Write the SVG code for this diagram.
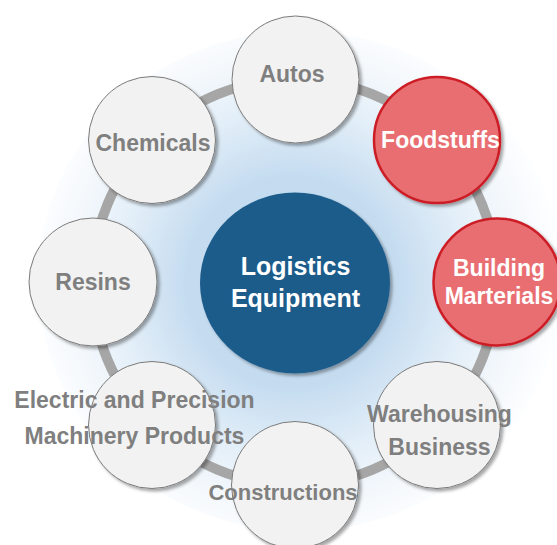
<svg xmlns="http://www.w3.org/2000/svg" width="557" height="545" viewBox="0 0 557 545">
  <defs>
    <radialGradient id="halo" cx="295" cy="282" r="265" fx="290" fy="282" gradientUnits="userSpaceOnUse">
      <stop offset="0" stop-color="#bcd6ee"/>
      <stop offset="0.4" stop-color="#c5dcf0"/>
      <stop offset="0.65" stop-color="#e2eef8"/>
      <stop offset="0.85" stop-color="#f4f8fc"/>
      <stop offset="1" stop-color="#fdfeff"/>
    </radialGradient>
    <filter id="shadow" x="-20%" y="-20%" width="150%" height="150%">
      <feDropShadow dx="2.5" dy="2.5" stdDeviation="1.8" flood-color="#000" flood-opacity="0.35"/>
    </filter>
  </defs>
  <style>
    .ring { fill: none; stroke: #a6a6a6; stroke-width: 10; }
    .grey { fill: #f2f2f2; stroke: #7a7a7a; stroke-width: 1; filter: url(#shadow); }
    .red { fill: #e96e72; stroke: #cc1f27; stroke-width: 2.5; filter: url(#shadow); }
    .hub { fill: #1e5c8b; filter: url(#shadow); }
    text { font-family: "Liberation Sans", Arial, sans-serif; font-weight: bold; text-anchor: middle; }
    .gl { fill: #7f7f7f; font-size: 23px; }
    .wl { fill: #ffffff; font-size: 23px; }
    .hl { fill: #ffffff; font-size: 25px; }
  </style>

  <!-- soft backdrop behind the ring -->
  <ellipse cx="300" cy="281" rx="262" ry="250" fill="url(#halo)"/>

  <!-- ring segments between neighbouring nodes -->
  <g id="connectors">
    <path class="ring" d="M295 79 A203 203 0 0 1 438.5 138.5"/>
    <path class="ring" d="M438.5 138.5 A203 203 0 0 1 497 282"/>
    <path class="ring" d="M497 282 A203 203 0 0 1 438.5 425.5"/>
    <path class="ring" d="M438.5 425.5 A203 203 0 0 1 295 485"/>
    <path class="ring" d="M295 485 A203 203 0 0 1 151.5 425.5"/>
    <path class="ring" d="M151.5 425.5 A203 203 0 0 1 92 282"/>
    <path class="ring" d="M92 282 A203 203 0 0 1 151.5 138.5"/>
    <path class="ring" d="M151.5 138.5 A203 203 0 0 1 295 79"/>
  </g>

  <g id="hub">
    <ellipse class="hub" cx="295" cy="283" rx="95" ry="90.5"/>
    <text class="hl" x="295.5" y="275">Logistics</text>
    <text class="hl" x="295.5" y="307">Equipment</text>
  </g>

  <g id="autos">
    <circle class="grey" cx="295.5" cy="79.5" r="63.5"/>
    <text class="gl" x="292" y="82">Autos</text>
  </g>

  <g id="foodstuffs">
    <circle class="red" cx="437" cy="140" r="63"/>
    <text class="wl" x="440.5" y="148">Foodstuffs</text>
  </g>

  <g id="building-materials">
    <circle class="red" cx="497" cy="282" r="63.5"/>
    <text class="wl" x="499" y="276">Building</text>
    <text class="wl" x="499" y="304">Marterials</text>
  </g>

  <g id="warehousing">
    <circle class="grey" cx="437" cy="425" r="63.5"/>
    <text class="gl" x="439.5" y="422">Warehousing</text>
    <text class="gl" x="439.5" y="455">Business</text>
  </g>

  <g id="constructions">
    <circle class="grey" cx="295" cy="485" r="63.5"/>
    <text class="gl" x="283" y="500" style="font-size:22px">Constructions</text>
  </g>

  <g id="electric-precision">
    <circle class="grey" cx="152" cy="425" r="63.5"/>
    <text class="gl" x="134.5" y="408">Electric and Precision</text>
    <text class="gl" x="134.5" y="444">Machinery Products</text>
  </g>

  <g id="resins">
    <circle class="grey" cx="93" cy="282" r="64"/>
    <text class="gl" x="93" y="290">Resins</text>
  </g>

  <g id="chemicals">
    <circle class="grey" cx="152" cy="140" r="63.5"/>
    <text class="gl" x="153" y="151">Chemicals</text>
  </g>
</svg>
